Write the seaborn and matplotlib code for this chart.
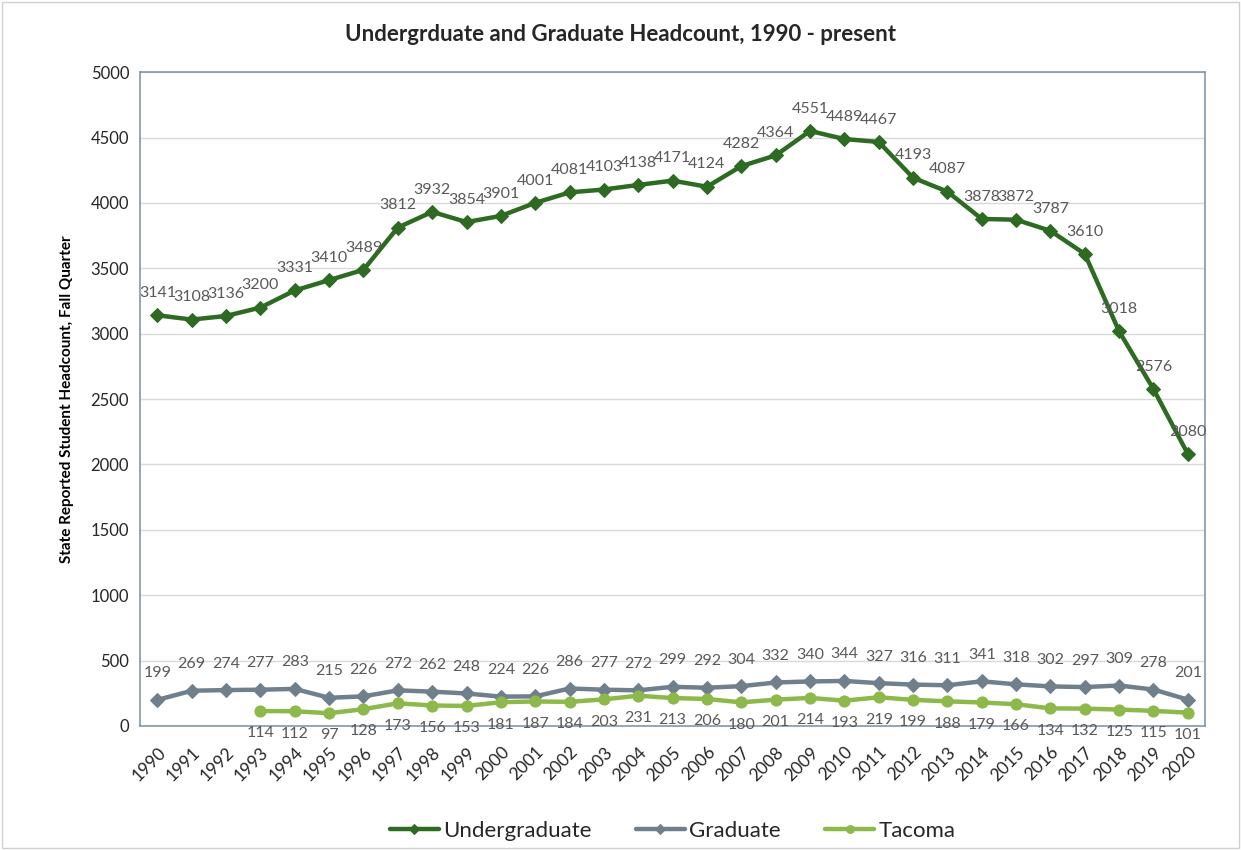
import pandas as pd
import matplotlib.pyplot as plt
import seaborn as sns
from matplotlib.patches import Rectangle

years = list(range(1990, 2021))

undergrad = [3141, 3108, 3136, 3200, 3331, 3410, 3489, 3812, 3932, 3854, 3901,
             4001, 4081, 4103, 4138, 4171, 4124, 4282, 4364, 4551, 4489, 4467,
             4193, 4087, 3878, 3872, 3787, 3610, 3018, 2576, 2080]
graduate = [199, 269, 274, 277, 283, 215, 226, 272, 262, 248, 224, 226, 286,
            277, 272, 299, 292, 304, 332, 340, 344, 327, 316, 311, 341, 318,
            302, 297, 309, 278, 201]
tacoma_years = list(range(1993, 2021))
tacoma = [114, 112, 97, 128, 173, 156, 153, 181, 187, 184, 203, 231, 213, 206,
          180, 201, 214, 193, 219, 199, 188, 179, 166, 134, 132, 125, 115, 101]

sns.set_style("white")
plt.rcParams['font.family'] = ['Lato', 'DejaVu Sans']

fig = plt.figure(figsize=(12.41, 8.5), dpi=100)
ax = fig.add_axes([0.113, 0.146, 0.858, 0.769])

# name, x, y, colour, marker, label offset (points)
series = [
    ("Undergraduate", years, undergrad, "#2E6B22", "D", 11),
    ("Graduate", years, graduate, "#6F7F8C", "D", 14),
    ("Tacoma", tacoma_years, tacoma, "#8DB84A", "o", -11),
]

for name, xs, ys, color, marker, off in series:
    df = pd.DataFrame({"Year": xs, "Headcount": ys})
    sns.lineplot(data=df, x="Year", y="Headcount", ax=ax, color=color,
                 marker=marker, markersize=7 if marker == "D" else 8,
                 markeredgecolor=color, linewidth=3.2, label=name)
    for x, y in zip(xs, ys):
        ax.annotate(str(y), (x, y), xytext=(0, off),
                    textcoords="offset points", ha="center",
                    va="bottom" if off > 0 else "top",
                    fontsize=11.5, color="#595959")

ax.set_xlim(1989.5, 2020.5)
ax.set_ylim(0, 5000)
ax.set_yticks(range(0, 5001, 500))
ax.set_xticks(years)
ax.set_xticklabels([str(y) for y in years], rotation=45, ha="right",
                   rotation_mode="anchor", fontsize=12.5, color="#262626")
ax.tick_params(axis="y", labelsize=12, labelcolor="#262626", pad=8)
ax.tick_params(axis="x", length=0, pad=13)
ax.tick_params(axis="y", length=0)
ax.grid(axis="y", color="#D9D9D9", linewidth=1)
for sp in ax.spines.values():
    sp.set_color("#8497A8")
    sp.set_linewidth(1.2)

ax.set_xlabel("")
ax.set_ylabel("State Reported Student Headcount, Fall Quarter",
              fontsize=11, fontweight="bold", color="#000000", labelpad=12)
fig.suptitle("Undergrduate and Graduate Headcount, 1990 - present",
             fontsize=16, fontweight="bold", y=0.972)

ax.legend(loc="upper center", bbox_to_anchor=(0.5, -0.115), ncol=3,
          frameon=False, fontsize=16, handlelength=2.2, columnspacing=2.0,
          handletextpad=0.2, markerscale=0.7)

fig.patches.append(Rectangle((0.002, 0.002), 0.996, 0.996,
                             transform=fig.transFigure, fill=False,
                             edgecolor="#D0D0D0", linewidth=1))

fig.savefig("out.png", dpi=100)
